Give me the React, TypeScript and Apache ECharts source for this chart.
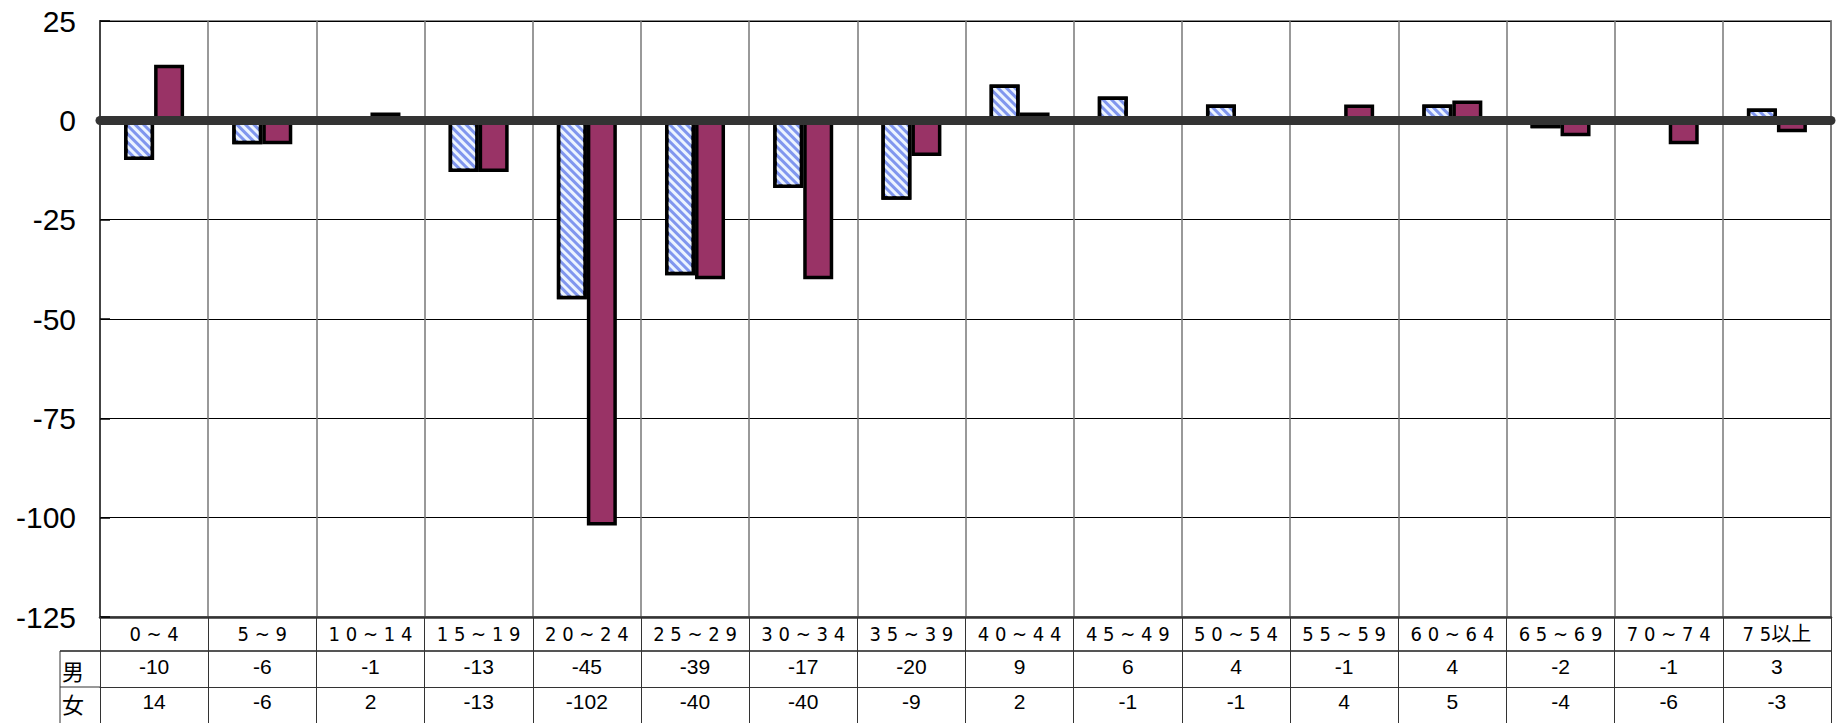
import React, { useEffect, useRef } from "react";
import * as echarts from "echarts";

const categories = ["0～4", "5～9", "10～14", "15～19", "20～24", "25～29", "30～34", "35～39", "40～44", "45～49", "50～54", "55～59", "60～64", "65～69", "70～74", "75以上"];
const maleValues = [-10, -6, -1, -13, -45, -39, -17, -20, 9, 6, 4, -1, 4, -2, -1, 3];
const femaleValues = [14, -6, 2, -13, -102, -40, -40, -9, 2, -1, -1, 4, 5, -4, -6, -3];
const rowNames = ["男", "女"];
const seriesNames = ["男", "女"];

const W = 1836;
const H = 723;
const GRID_LEFT = 100;
const GRID_RIGHT = 5;
const GRID_TOP = 21;
const GRID_BOTTOM = 106;
const ROW1 = 34;
const ROW2 = 70;
const HEADER_LEFT = 60;

const fmtCat = (s: string) =>
  s.replace(/(\d)(?=\d)/g, "$1 ").replace("～", " ~ ");

export default function App() {
  const ref = useRef<HTMLDivElement>(null);
  useEffect(() => {
    if (!ref.current) return;
    const chart = echarts.init(ref.current, undefined, { renderer: "svg" });
    const axisBottom = H - GRID_BOTTOM;
    const numFont = { fontFamily: "Liberation Sans, Arial, sans-serif", fontSize: 21, color: "#000" };
    chart.setOption({
      animation: false,
      backgroundColor: "#fff",
      grid: {
        left: GRID_LEFT,
        right: GRID_RIGHT,
        top: GRID_TOP,
        bottom: GRID_BOTTOM,
        show: true,
        borderColor: "#8a8a8a",
        borderWidth: 2,
      },
      xAxis: [
        {
          type: "category",
          data: categories,
          position: "bottom",
          axisLine: { show: true, onZero: false, lineStyle: { color: "#333", width: 2.5 } },
          axisTick: { show: true, interval: 0, length: 106, lineStyle: { color: "#333", width: 1 } },
          splitLine: { show: true, interval: 0, lineStyle: { color: "#777", width: 1.5 } },
          axisLabel: {
            interval: 0,
            margin: 7,
            fontFamily: "Liberation Sans Narrow, DejaVu Sans Condensed, Noto Sans CJK JP, sans-serif",
            fontSize: 20,
            color: "#000",
            formatter: (v: string) => fmtCat(v),
          },
        },
        {
          type: "category",
          data: categories,
          position: "bottom",
          offset: ROW1,
          axisLine: { show: true, onZero: false, lineStyle: { color: "#555", width: 2 } },
          axisTick: { show: false },
          axisLabel: { interval: 0, margin: 5, ...numFont, formatter: (_v: string, i: number) => String(maleValues[i]) },
        },
        {
          type: "category",
          data: categories,
          position: "bottom",
          offset: ROW2,
          axisLine: { show: true, onZero: false, lineStyle: { color: "#333", width: 1 } },
          axisTick: { show: false },
          axisLabel: { interval: 0, margin: 4, ...numFont, formatter: (_v: string, i: number) => String(femaleValues[i]) },
        },
      ],
      yAxis: {
        type: "value",
        min: -125,
        max: 25,
        interval: 25,
        axisLine: { show: true, lineStyle: { color: "#444", width: 2 } },
        axisTick: { show: true, inside: true, length: 10, lineStyle: { color: "#000", width: 1.5 } },
        splitLine: { show: true, lineStyle: { color: "#000", width: 1 } },
        axisLabel: {
          margin: 24,
          fontFamily: "Liberation Sans, Arial, sans-serif",
          fontSize: 30,
          color: "#000",
        },
      },
      series: [
        {
          name: seriesNames[0],
          type: "bar",
          data: maleValues,
          barWidth: 30,
          barGap: "0%",
          itemStyle: {
            color: "#8096ee",
            borderColor: "#000",
            borderWidth: 3.5,
            decal: {
              symbol: "rect",
              dashArrayX: [1, 0],
              dashArrayY: [3, 3],
              rotation: Math.PI / 4,
              color: "rgba(236,244,255,1)",
            },
          },
        },
        {
          name: seriesNames[1],
          type: "bar",
          data: femaleValues,
          barWidth: 30,
          barGap: "0%",
          itemStyle: { color: "#993366", borderColor: "#000", borderWidth: 3.5 },
          markLine: {
            silent: true,
            symbol: "none",
            label: { show: false },
            lineStyle: { color: "#333", width: 9, type: "solid", cap: "round" },
            data: [{ yAxis: 0 }],
          },
        },
      ],
      graphic: [
        { type: "line", shape: { x1: HEADER_LEFT, y1: axisBottom + ROW1, x2: GRID_LEFT, y2: axisBottom + ROW1 }, style: { stroke: "#555", lineWidth: 2 } },
        { type: "line", shape: { x1: HEADER_LEFT, y1: axisBottom + ROW2, x2: GRID_LEFT, y2: axisBottom + ROW2 }, style: { stroke: "#333", lineWidth: 1 } },
        { type: "line", shape: { x1: HEADER_LEFT, y1: axisBottom + ROW1, x2: HEADER_LEFT, y2: H }, style: { stroke: "#333", lineWidth: 1 } },
        {
          type: "text",
          x: HEADER_LEFT + 2,
          y: axisBottom + (ROW1 + ROW2) / 2 + 1,
          style: { text: rowNames[0], font: "22px 'Noto Sans CJK JP', sans-serif", fill: "#000", verticalAlign: "middle" },
        },
        {
          type: "text",
          x: HEADER_LEFT + 2,
          y: axisBottom + ROW2 + 16,
          style: { text: rowNames[1], font: "22px 'Noto Sans CJK JP', sans-serif", fill: "#000", verticalAlign: "middle" },
        },
      ],
    });
    return () => chart.dispose();
  }, []);
  return <div ref={ref} style={{ position: "absolute", left: 0, top: 0, width: W, height: H }} />;
}
